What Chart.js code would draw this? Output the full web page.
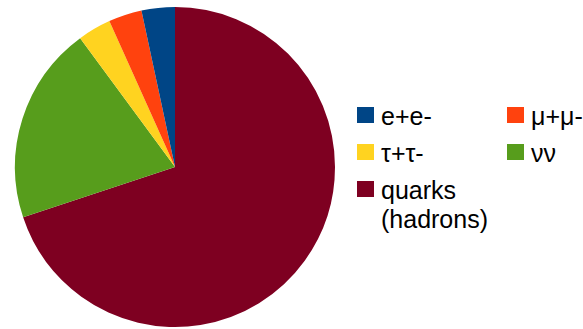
<!DOCTYPE html>
<html>
<head>
<meta charset="utf-8">
<script src="https://cdn.jsdelivr.net/npm/chart.js@4/dist/chart.umd.min.js"></script>
<style>
  html, body { margin: 0; padding: 0; background: #fff; }
  #wrap { position: relative; width: 583px; height: 329px; }
  #pie { position: absolute; left: 0; top: 0; width: 350px; height: 329px; }
  #legend { position: absolute; left: 357px; top: 102px; font-family: "Liberation Sans", Arial, sans-serif;
            font-size: 25px; color: #000; display: grid; grid-template-columns: 150px 80px; row-gap: 8px; }
  .item { display: flex; align-items: flex-start; line-height: 29px; }
  .sw { width: 17px; height: 16px; margin-top: 5px; margin-right: 7px; flex: none; }
  .item.wide { grid-column: 1 / span 2; }
</style>
</head>
<body>
<div id="wrap">
  <div id="pie"><canvas id="c"></canvas></div>
  <div id="legend"></div>
</div>
<script>
// Z boson decay channels (branching ratios, %)
const channels = ["e+e-", "μ+μ-", "τ+τ-", "νν", "quarks\n(hadrons)"];
const ratios = [3.3632, 3.3662, 3.3696, 20.000, 69.911];
const colors = ["#004586", "#ff420e", "#ffd320", "#579d1c", "#7e0021"];

// Slices run clockwise from 12 o'clock with the largest first,
// so feed the dataset in reverse order.
const order = channels.map((_, i) => i).reverse();

new Chart(document.getElementById("c"), {
  type: "pie",
  data: {
    labels: order.map(i => channels[i]),
    datasets: [{
      data: order.map(i => ratios[i]),
      backgroundColor: order.map(i => colors[i]),
      borderWidth: 0
    }]
  },
  options: {
    responsive: true,
    maintainAspectRatio: false,
    animation: false,
    layout: { padding: { top: 7, bottom: 2, left: 0, right: 0 } },
    plugins: { legend: { display: false }, tooltip: { enabled: false } }
  }
});

// Legend in two columns, in channel order
const legend = document.getElementById("legend");
channels.forEach((name, i) => {
  const item = document.createElement("div");
  item.className = "item" + (name.includes("\n") ? " wide" : "");
  const sw = document.createElement("span");
  sw.className = "sw";
  sw.style.background = colors[i];
  const txt = document.createElement("span");
  txt.style.whiteSpace = "pre";
  txt.textContent = name;
  item.appendChild(sw);
  item.appendChild(txt);
  legend.appendChild(item);
});
</script>
</body>
</html>
